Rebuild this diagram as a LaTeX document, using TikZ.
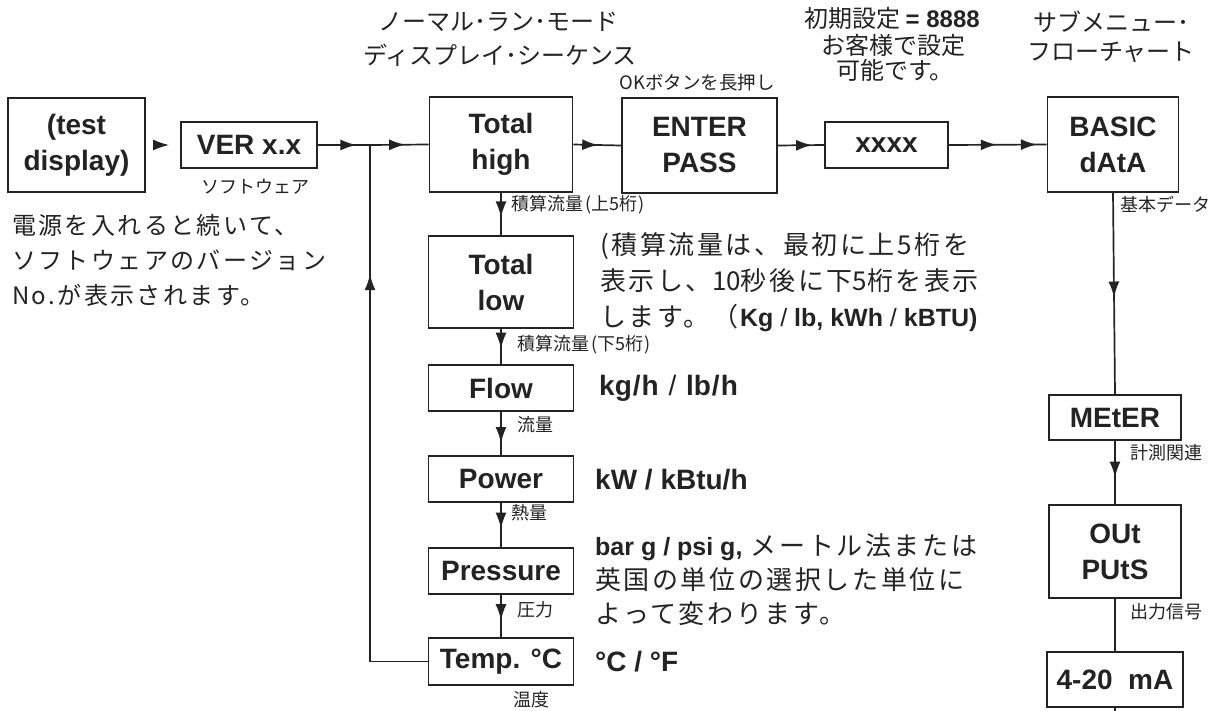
\documentclass[tikz,border=0pt]{standalone}
\usepackage{fontspec}
\setmainfont{Liberation Sans}
\newfontfamily\cjk{Noto Sans CJK JP}
\newfontfamily\cjkw[LetterSpace=10]{Noto Sans CJK JP}
\newfontfamily\cjkv[LetterSpace=8]{Noto Sans CJK JP}
\usetikzlibrary{arrows.meta,decorations.markings}
\definecolor{ink}{RGB}{35,35,35}
\tikzset{
  box/.style={draw=ink, line width=1.7pt, rectangle, inner sep=0pt, align=center,
    font=\fontsize{28}{36}\selectfont\bfseries, text=ink},
  lbl/.style={inner sep=0pt, font=\cjk\fontsize{18}{20}\selectfont, text=ink},
  ttl/.style={inner sep=0pt, font=\cjk\fontsize{24}{26}\selectfont, text=ink},
  ann/.style={inner sep=0pt, align=left, font=\cjkw\fontsize{26}{36}\selectfont, text=ink},
  unit/.style={inner sep=0pt, anchor=west, font=\fontsize{28}{34}\selectfont\bfseries, text=ink},
  conn/.style={draw=ink, line width=1.7pt},
  marr/.style={postaction={decorate}, decoration={markings,
    mark=at position #1 with {\arrow{Latex[length=16pt,width=11pt]}}}},
  dmarr/.style={postaction={decorate}, decoration={markings,
    mark=at position 0.49 with {\arrow{Latex[length=16pt,width=11pt]}},
    mark=at position 0.90 with {\arrow{Latex[length=16pt,width=11pt]}}}},
}
\begin{document}
\begin{tikzpicture}[x=1pt,y=-1pt]
\useasboundingbox (0,0) rectangle (1220,711);

% top row boxes
\node[box, minimum width=137pt, minimum height=94pt] (test) at (76.5,145) {(test\\display)};
\node[box, minimum width=136pt, minimum height=46pt] (ver) at (249,145) {VER x.x};
\node[box, minimum width=143pt, minimum height=95pt] (th) at (501,144.5) {Total\\high};
\node[box, minimum width=155pt, minimum height=95pt] (ep) at (699.5,145.5) {ENTER\\PASS};
\node[box, minimum width=123pt, minimum height=46pt] (xx) at (886.5,145) {xxxx};
\node[box, minimum width=131pt, minimum height=95pt] (bd) at (1113,144.5) {BASIC\\dAtA};

% middle column
\node[box, minimum width=145pt, minimum height=92pt] (tl) at (501,282) {Total\\low};
\node[box, minimum width=145pt, minimum height=46pt] (fl) at (501,388) {Flow};
\node[box, minimum width=145pt, minimum height=46pt] (pw) at (501,479) {Power};
\node[box, minimum width=145pt, minimum height=46pt] (pr) at (501,571) {Pressure};
\node[box, minimum width=145pt, minimum height=47pt] (tp) at (501,661.5) {Temp. °C};

% right column
\node[box, minimum width=132pt, minimum height=45pt] (me) at (1115,417.5) {MEtER};
\node[box, minimum width=132pt, minimum height=93pt] (op) at (1115,551.5) {OUt\\PUtS};
\node[box, minimum width=136pt, minimum height=55pt] (ma) at (1115,679.5) {4-20\ \ mA};

\coordinate (j) at (370,145);
\coordinate (bot) at (1115,711);

% connectors
\draw[conn, -{Latex[length=16pt,width=11pt]}, shorten <=9pt, shorten >=11pt] (test.east) -- (ver.west);
\draw[conn, marr=0.74] (ver.east) -- (j);
\draw[conn, marr=0.6] (j) -- (th.west);
\draw[conn, marr=0.52] (th.east) -- (ep.west);
\draw[conn, marr=0.74] (ep.east) -- (xx.west);
\draw[conn, dmarr] (xx.east) -- (bd.west);

\draw[conn, marr=0.58] (th.south) -- (tl.north);
\draw[conn, marr=0.56] (tl.south) -- (fl.north);
\draw[conn, marr=0.72] (fl.south) -- (pw.north);
\draw[conn, marr=0.58] (pw.south) -- (pr.north);
\draw[conn, marr=0.6] (pr.south) -- (tp.north);
\draw[conn, marr=0.775] (tp.west) -| (j);

\draw[conn, marr=0.52] (bd.south) -- (me.north);
\draw[conn, marr=0.58] (me.south) -- (op.north);
\draw[conn] (op.south) -- (ma.north);
\draw[conn] (ma.south) -- (bot);

% small labels
\node[lbl] (l1) at (255,187) {ソフトウェア};
\node[lbl, anchor=west] (l2) at (511,205) {積算流量\kern2pt(上5桁\kern1pt)};
\node[lbl, anchor=west] (l3) at (517,345) {積算流量\kern2pt(下5桁\kern1pt)};
\node[lbl, anchor=west] (l4) at (517,425) {流量};
\node[lbl, anchor=west] (l5) at (511,513) {熱量};
\node[lbl, anchor=west] (l6) at (517,610) {圧力};
\node[lbl, anchor=west] (l7) at (513,700) {温度};
\node[lbl, font=\cjk\fontsize{18.5}{21}\selectfont] (l8) at (697,83) {OKボタンを長押し};
\node[lbl, anchor=west] (l9) at (1120,205) {基本データ};
\node[lbl, anchor=west] (l10) at (1130,453) {計測関連};
\node[lbl, anchor=west] (l11) at (1130,612) {出力信号};

% titles
\node[ttl] (t1) at (498,22) {ノーマル･ラン･モード};
\node[ttl] (t2) at (500,55) {ディスプレイ･シーケンス};
\node[ttl] (t3) at (892,18) {初期設定 {\rmfamily\bfseries = 8888}};
\node[ttl] (t4) at (893,45) {お客様で設定};
\node[ttl] (t5) at (895,70) {可能です。};
\node[ttl] (t6) at (1111,22) {サブメニュー･};
\node[ttl] (t7) at (1111,52) {フローチャート};

% annotations
\node[ann, anchor=west, font=\cjkw\fontsize{24}{35}\selectfont] (lt) at (12,260)
  {電源を入れると続いて、\\ソフトウェアのバージョン\\No.が表示されます。};
\node[ann, anchor=west] (a1) at (600,282)
  {(積算流量は、最初に上5桁を\\表示し、{\cjk 10}秒後に下{\cjk 5}桁を表示\\します。（\kern2pt{\rmfamily\bfseries\fontsize{25}{36}\selectfont Kg {\mdseries /} lb, kWh {\mdseries /} kBTU)}};
\node[unit] (u1) at (599,388) {kg\kern1pt/\kern1pt h\kern2pt{} {\mdseries /} \kern2pt lb\kern1pt/\kern1pt h};
\node[unit] (u2) at (595,480) {kW / kBtu/h};
\node[ann, anchor=west, font=\cjkw\fontsize{26}{34}\selectfont] (a2) at (595,580)
  {{\rmfamily\bfseries\fontsize{25}{34}\selectfont bar g / psi g,} メートル法または\\英国の単位の選択した単位に\\よって変わります。};
\node[unit] (u3) at (595,662) {°C / °F};
\end{tikzpicture}
\end{document}
